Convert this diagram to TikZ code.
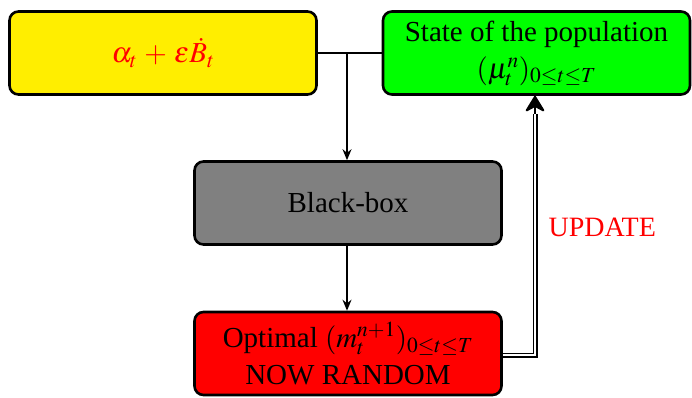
\documentclass[tikz,border=0pt]{standalone}
\usepackage{mathptmx}
\usepackage{fontspec}
\newfontfamily\tnr{Liberation Serif}
\usetikzlibrary{arrows.meta}
\definecolor{boxyellow}{RGB}{255,238,0}
\definecolor{boxgreen}{RGB}{0,255,0}
\definecolor{boxgray}{RGB}{128,128,128}
\definecolor{boxred}{RGB}{255,0,0}
\begin{document}
\begin{tikzpicture}[x=1pt,y=-1pt,
  box/.style={draw=black, line width=2.6pt, rounded corners=9pt, minimum width=307pt, minimum height=83pt, align=center, inner sep=0pt, font=\tnr\fontsize{29}{37}\selectfont},
  flow/.style={line width=1.5pt, -{Stealth[length=11pt,width=9pt]}},
  upd/.style={double=white, double distance=2.2pt, line width=1.4pt},
  updtip/.style={line width=2pt, -{Stealth[length=18pt,width=22pt,round]}}]
\useasboundingbox (0,0) rectangle (692,397);
\node[box, fill=boxyellow, text=red] (noise) at (163,53) {$\alpha_t\,+\,\varepsilon\dot{B}_t$};
\node[box, fill=boxgreen] (state) at (536.5,53) {State of the population\\$(\mu^n_t)_{0\le t\le T}$};
\node[box, fill=boxgray] (bb) at (348,203) {Black-box};
\node[box, fill=boxred] (opt) at (348,353.5) {Optimal $(m^{n+1}_t)_{0\le t\le T}$\\NOW RANDOM};
\coordinate (mid) at (347,53);
\coordinate (corner) at (535,355);
\coordinate (tipbase) at (535,114);
\draw[line width=1.5pt] (noise.east) -- (state.west);
\draw[flow] (mid) -- (mid |- bb.north);
\draw[flow] (bb.south -| mid) -- (opt.north -| mid);
\draw[upd] (opt.east |- corner) -- (corner) -- (tipbase);
\draw[updtip] (tipbase) -- (tipbase |- state.south);
\node[text=red, font=\tnr\fontsize{28}{34}\selectfont, anchor=west] (updlabel) at (545,227) {UPDATE};
\end{tikzpicture}
\end{document}
